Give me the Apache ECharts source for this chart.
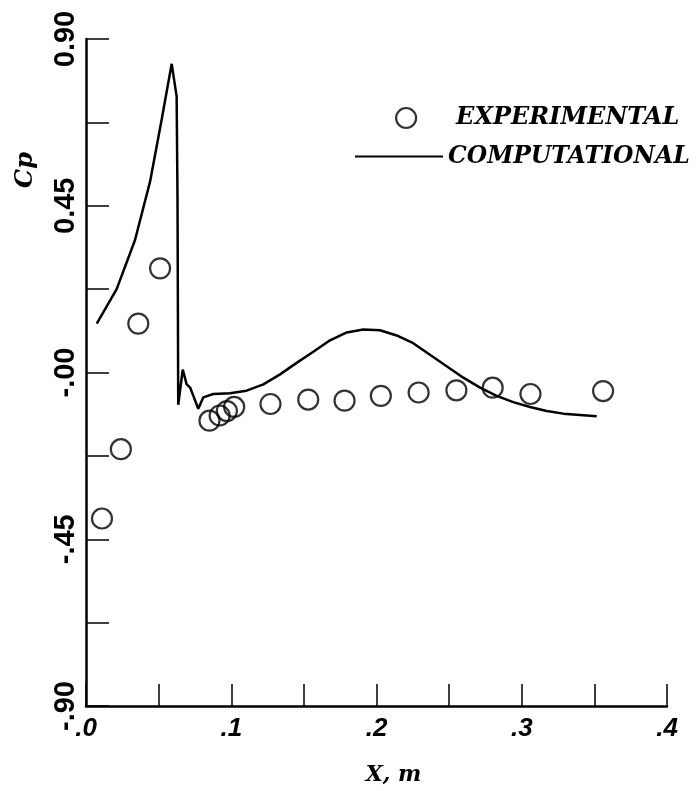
<!DOCTYPE html>
<html>
<head>
<meta charset="utf-8">
<script src="https://cdn.jsdelivr.net/npm/echarts@6/dist/echarts.min.js"></script>
<style>
html,body{margin:0;padding:0;background:#fff;}
#chart{width:698px;height:791px;}
</style>
</head>
<body>
<div id="chart"></div>
<script>
// Experimental data (x in m, Cp)
var expX = [0.011, 0.024, 0.036, 0.051, 0.085, 0.092, 0.097, 0.102, 0.127, 0.153, 0.178, 0.203, 0.229, 0.255, 0.280, 0.306, 0.356];
var expCp = [-0.394, -0.207, 0.132, 0.281, -0.130, -0.116, -0.104, -0.093, -0.085, -0.073, -0.076, -0.063, -0.054, -0.048, -0.041, -0.058, -0.050];

// Computational curve
var compX = [0.0074, 0.0211, 0.0337, 0.0441, 0.0521, 0.0590, 0.0602, 0.0624, 0.0630, 0.0635, 0.0666, 0.0693, 0.0716, 0.0739, 0.0773, 0.0808, 0.0876, 0.0991, 0.1106, 0.1221, 0.1336, 0.1450, 0.1565, 0.1680, 0.1795, 0.1909, 0.2024, 0.2139, 0.2253, 0.2368, 0.2483, 0.2598, 0.2713, 0.2827, 0.2942, 0.3057, 0.3172, 0.3286, 0.3516];
var compCp = [0.132, 0.225, 0.357, 0.515, 0.683, 0.833, 0.836, 0.745, 0.471, -0.087, 0.008, -0.032, -0.040, -0.063, -0.098, -0.067, -0.058, -0.056, -0.049, -0.032, -0.005, 0.026, 0.056, 0.087, 0.108, 0.116, 0.114, 0.100, 0.079, 0.048, 0.017, -0.014, -0.041, -0.063, -0.080, -0.093, -0.104, -0.111, -0.118];

// Tick labels
var yTickValues = [0.9, 0.45, 0, -0.45, -0.9];
var yTickLabels = ['0.90', '0.45', '-.00', '-.45', '-.90'];
var xTickValues = [0, 0.1, 0.2, 0.3, 0.4];
var xTickLabels = ['.0', '.1', '.2', '.3', '.4'];

function pairs(xs, ys) { return xs.map(function (x, i) { return [x, ys[i]]; }); }
function lookup(vals, labels, v) {
  for (var i = 0; i < vals.length; i++) { if (Math.abs(vals[i] - v) < 1e-6) return labels[i]; }
  return '';
}

var chart = echarts.init(document.getElementById('chart'), null, {renderer: 'canvas'});
var serifBI = '"DejaVu Serif", serif';
chart.setOption({
  backgroundColor: '#fff',
  animation: false,
  grid: {left: 86, right: 31, top: 39, bottom: 74, containLabel: false},
  xAxis: {
    type: 'value', min: 0, max: 0.4, interval: 0.05,
    name: 'X, m', nameLocation: 'middle', nameGap: 58,
    nameTextStyle: {fontFamily: serifBI, fontWeight: 'bold', fontStyle: 'italic', fontSize: 22, color: '#000', padding: [0, 0, 0, 34]},
    axisLine: {show: true, onZero: false, lineStyle: {color: '#000', width: 2.5}},
    axisTick: {show: true, inside: true, length: 22, lineStyle: {color: '#000', width: 1.5}},
    axisLabel: {
      margin: 10, color: '#000', fontFamily: '"Liberation Sans", Arial, sans-serif', fontWeight: 'bold', fontStyle: 'italic', fontSize: 26,
      formatter: function (v) { return lookup(xTickValues, xTickLabels, v); }
    },
    splitLine: {show: false}
  },
  yAxis: {
    type: 'value', min: -0.9, max: 0.9, interval: 0.225,
    axisLine: {show: true, onZero: false, lineStyle: {color: '#000', width: 2.5}},
    axisTick: {show: true, inside: true, length: 23, lineStyle: {color: '#000', width: 1.5}},
    axisLabel: {
      rotate: 90, margin: 6, color: '#000', fontFamily: '"Liberation Sans", Arial, sans-serif', fontWeight: 'bold', fontSize: 29,
      formatter: function (v) { return lookup(yTickValues, yTickLabels, v); }
    },
    splitLine: {show: false}
  },
  legend: [{
    data: ['EXPERIMENTAL'], left: 390, top: 101, orient: 'vertical',
    itemWidth: 20, itemHeight: 20, icon: 'circle',
    itemStyle: {color: 'transparent', borderColor: '#000', borderWidth: 2.2},
    textStyle: {fontFamily: serifBI, fontWeight: 'bold', fontStyle: 'italic', fontSize: 24, color: '#000', padding: [0, 0, 0, 35]}
  }, {
    data: ['COMPUTATIONAL'], left: 350, top: 140, orient: 'vertical',
    itemWidth: 88, itemHeight: 2, icon: 'rect',
    itemStyle: {color: '#000', borderWidth: 0},
    textStyle: {fontFamily: serifBI, fontWeight: 'bold', fontStyle: 'italic', fontSize: 23.5, color: '#000'}
  }],
  graphic: [{
    type: 'text', x: 26, y: 170, rotation: Math.PI / 2,
    style: {text: 'Cp', fontFamily: serifBI, fontWeight: 'bold', fontStyle: 'italic', fontSize: 24, fill: '#000', textAlign: 'center', textVerticalAlign: 'middle'}
  }],
  series: [{
    name: 'COMPUTATIONAL', type: 'line', data: pairs(compX, compCp),
    symbol: 'none', smooth: false,
    lineStyle: {color: '#000', width: 2.5}, itemStyle: {color: '#000'}, z: 2
  }, {
    name: 'EXPERIMENTAL', type: 'scatter', data: pairs(expX, expCp),
    symbol: 'circle', symbolSize: 20,
    itemStyle: {color: 'transparent', borderColor: '#000', borderWidth: 2.2}, z: 3
  }]
});
</script>
</body>
</html>
